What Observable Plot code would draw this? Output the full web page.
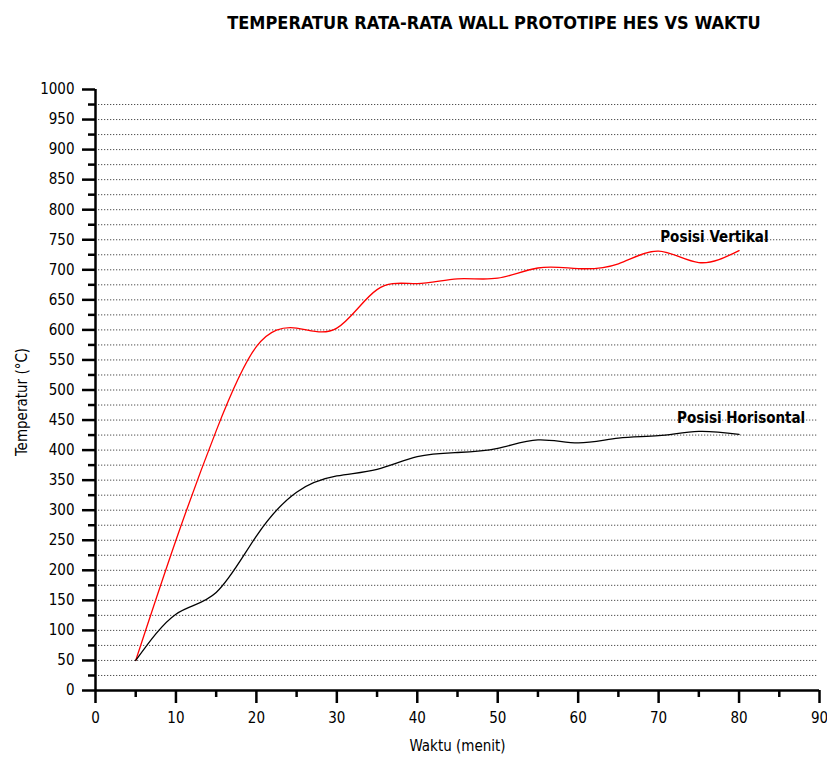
<!DOCTYPE html>
<html><head><meta charset="utf-8">
<script src="https://cdn.jsdelivr.net/npm/d3@7"></script>
<script src="https://cdn.jsdelivr.net/npm/@observablehq/plot@0.6"></script>
<style>
body{margin:0;background:#fff;}
#title{height:40px;position:relative;font-family:"DejaVu Sans Condensed","DejaVu Sans",sans-serif;font-weight:bold;font-size:18px;color:#000;}
#title span{position:absolute;left:494px;top:12px;transform:translateX(-50%);white-space:nowrap;}
</style></head><body>
<div id="title"><span>TEMPERATUR RATA-RATA WALL PROTOTIPE HES VS WAKTU</span></div>
<div id="chart"></div>
<script>
const minutes = [5,10,15,20,25,30,35,40,45,50,55,60,65,70,75,80];
const vertikal = [50,250,432,572,603,603,667,677,685,686,703,702,710,731,712,732];
const horisontal = [50,127,163,257,330,357,368,389,396,403,417,412,420,424,431,426];
const yTicks = [0,50,100,150,200,250,300,350,400,450,500,550,600,650,700,750,800,850,900,950,1000];
const yMinor = [25,75,125,175,225,275,325,375,425,475,525,575,625,675,725,775,825,875,925,975];
const xTicks = [0,10,20,30,40,50,60,70,80,90];
const xMinor = [5,15,25,35,45,55,65,75,85];
const seriesLabels = ["Posisi Vertikal","Posisi Horisontal"];
const labelMinute = [70.2, 72.3];
const labelTemp = [755, 453];
const yTitle = "Temperatur (°C)";
const xTitle = "Waktu (menit)";

const font = '"DejaVu Sans Condensed","DejaVu Sans",sans-serif';
const chart = Plot.plot({
  width: 827, height: 720,
  marginTop: 49, marginBottom: 70, marginLeft: 95, marginRight: 8,
  x: {domain: [0, 90]},
  y: {domain: [0, 1000]},
  style: {fontFamily: font, fontSize: "15px", color: "#000", background: "#fff", overflow: "visible"},
  marks: [
    Plot.ruleY(yMinor.concat(yTicks.slice(1, -1)), {x1: 0.4, x2: 89.7, stroke: "#222", strokeDasharray: "1,2", strokeWidth: 1}),
    Plot.axisY(yTicks, {tickSize: 13, tickPadding: 8, strokeWidth: 2.5, label: null, fontSize: 15, tickFormat: d => String(d)}),
    Plot.axisY(yMinor, {tickSize: 7, tickFormat: () => "", strokeWidth: 2.5, label: null}),
    Plot.axisX(xTicks, {tickSize: 13, tickPadding: 9, strokeWidth: 2.5, label: null, fontSize: 15, tickFormat: d => String(d)}),
    Plot.axisX(xMinor, {tickSize: 7, tickFormat: () => "", strokeWidth: 2.5, label: null}),
    Plot.ruleX([0], {strokeWidth: 2.5}),
    Plot.ruleY([0], {strokeWidth: 2.5}),
    Plot.line(vertikal, {x: (d, i) => minutes[i], y: d => d, curve: "natural", stroke: "#ff0000", strokeWidth: 1.3}),
    Plot.line(horisontal, {x: (d, i) => minutes[i], y: d => d, curve: "natural", stroke: "#000", strokeWidth: 1.3}),
    Plot.text(seriesLabels, {x: (d, i) => labelMinute[i], y: (d, i) => labelTemp[i], text: d => d, textAnchor: "start", fontWeight: "bold", fontSize: 15, fill: "#000"}),
    Plot.text([yTitle], {frameAnchor: "left", textAnchor: "middle", dx: -73, dy: 12, rotate: -90, fontSize: 15}),
    Plot.text([xTitle], {frameAnchor: "bottom", dy: 60, fontSize: 15})
  ]
});
document.getElementById("chart").appendChild(chart);
</script>
</body></html>
